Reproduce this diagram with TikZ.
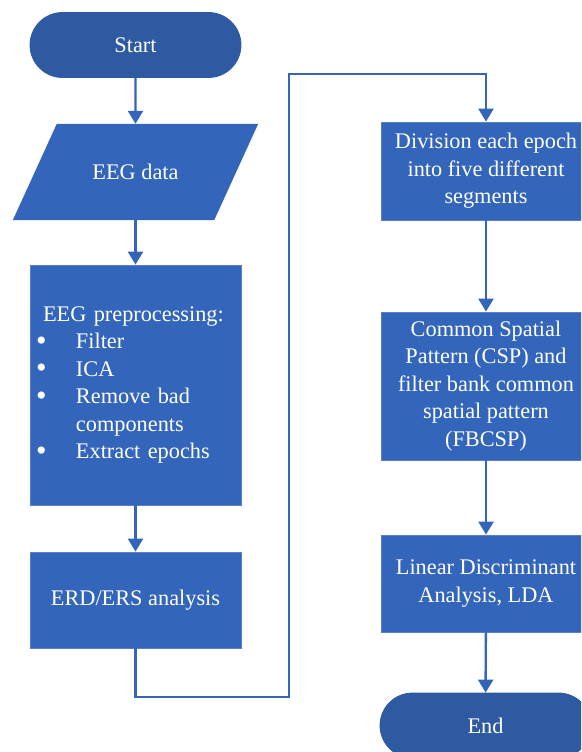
\documentclass[tikz,border=0pt]{standalone}
\usepackage{fontspec}
\setmainfont{Liberation Serif}
\usetikzlibrary{shapes.misc,arrows.meta,backgrounds}
\definecolor{boxblue}{HTML}{3366BB}
\definecolor{termblue}{HTML}{2E5AA2}
\definecolor{edgeblue}{HTML}{5A80C4}
\newcommand{\itembullet}{\makebox[39pt][l]{\hspace*{-1pt}\raisebox{-1.5pt}{\fontsize{30}{30}\selectfont\textbullet}}}
\tikzset{
  lbl/.style={text=white, font=\fontsize{22.3}{27.5}\selectfont, align=center, inner sep=0pt},
  procbox/.style={lbl, rectangle, fill=boxblue, draw=edgeblue, line width=0.8pt},
  termbox/.style={lbl, rounded rectangle, fill=termblue, draw=termblue, line width=0.8pt,
                  minimum width=211pt, minimum height=65pt},
  flow/.style={draw=boxblue, line width=2.4pt, -{Triangle[length=13pt,width=15pt]}},
}
\begin{document}
\begin{tikzpicture}[x=1pt, y=-1pt]
\useasboundingbox (0,0) rectangle (581,752);
\clip (0,0) rectangle (581,752);

% left column
\node[termbox] (start) at (135.5,45) {Start};
\node[lbl, minimum width=201pt, minimum height=96pt] (eeg) at (135.5,172) {EEG data};
\begin{scope}[on background layer]
  \fill[boxblue] ([xshift=22pt]eeg.north west) -- ([xshift=22pt]eeg.north east)
    -- ([xshift=-22pt]eeg.south east) -- ([xshift=-22pt]eeg.south west) -- cycle;
\end{scope}
\node[procbox, minimum width=211pt, minimum height=240pt, text width=197pt, align=left] (pre) at (135.5,385) {%
  \hspace*{6pt}EEG preprocessing:\\
  \itembullet Filter\\
  \itembullet ICA\\
  \itembullet Remove bad\\
  \hspace*{39pt}components\\
  \itembullet Extract epochs};
\node[procbox, minimum width=211pt, minimum height=96pt] (erd) at (135.5,600) {ERD/ERS analysis};

% right column
\node[procbox, minimum width=210pt, minimum height=98pt] (div) at (486,171)
  {Division each epoch\\into five different\\segments};
\node[procbox, minimum width=210pt, minimum height=148pt] (csp) at (486,386)
  {Common Spatial\\Pattern (CSP) and\\filter bank common\\spatial pattern\\(FBCSP)};
\node[procbox, minimum width=210pt, minimum height=97pt] (lda) at (486,583.5)
  {Linear Discriminant\\Analysis, LDA};
\node[termbox] (end) at (485.5,725.5) {End};

% connectors
\draw[flow] (start) -- (eeg);
\draw[flow] (eeg) -- (pre);
\draw[flow] (pre) -- (erd);
\coordinate (lo) at (289,697);
\coordinate (hi) at (289,74);
\draw[flow] (erd.south) |- (lo) -- (hi) -| (div.north);
\draw[flow] (div) -- (csp);
\draw[flow] (csp) -- (lda);
\draw[flow] (lda) -- (end);
\end{tikzpicture}
\end{document}
